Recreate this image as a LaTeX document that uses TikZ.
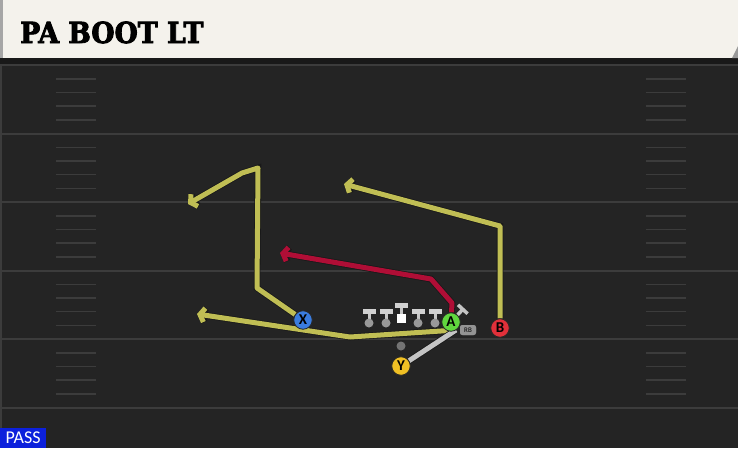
\documentclass[tikz,border=0pt]{standalone}
\usepackage{fontspec}
\usepackage{tikz}
\usetikzlibrary{arrows.meta}
\usetikzlibrary{shapes.misc}
\setsansfont{Carlito}
\newfontfamily\titlefont[FakeStretch=0.92, BoldFeatures={FakeBold=3}]{DejaVu Serif}
\definecolor{fieldbg}{RGB}{36,36,36}
\definecolor{yardline}{RGB}{60,60,60}
\definecolor{headerbg}{RGB}{244,242,236}
\definecolor{routeyellow}{RGB}{192,190,84}
\definecolor{routered}{RGB}{176,14,54}
\definecolor{motiongray}{RGB}{196,196,196}
\definecolor{passblue}{RGB}{12,32,220}
\definecolor{xblue}{RGB}{58,124,222}
\definecolor{agreen}{RGB}{96,214,62}
\definecolor{bred}{RGB}{226,48,58}
\definecolor{yyellow}{RGB}{240,192,36}
\newcommand{\playersize}{18.5pt}
\newcommand{\routewidth}{5pt}
\newcommand{\outlinewidth}{6.6pt}
\tikzstyle{player}=[circle, draw={black!85}, line width=0.8pt, minimum size=\playersize, inner sep=0, font=\sffamily\bfseries\fontsize{15}{15}\selectfont]
\tikzstyle{route}=[line width=\routewidth, line join=round,
                   % Thin dark edge round every route.
                   preaction={draw={black!90}, line width=\outlinewidth}]
\tikzstyle{routetip}=[-{Straight Barb[length=4.5pt, width=14pt]}]
\tikzstyle{hashmark}=[draw=yardline, line width=1.6pt]
\tikzstyle{rbtag}=[fill=black!42, rounded corners=2.5pt, minimum width=16pt, minimum height=10pt, inner sep=0, font=\sffamily\fontsize{7}{7}\selectfont]

\begin{document}
\begin{tikzpicture}[x=1pt, y=-1pt]
        \useasboundingbox (0,0) rectangle (738,448);
        \fill[fieldbg] (0,0) rectangle (738,448);
        \fill[black!90] (0,57) rectangle (738,64);
        \fill[headerbg] (0,0) rectangle (738,58);
        \fill[black!35] (0,0) rectangle (3,58);
        \fill[black!40] (738,46) -- (738,58) -- (732,58) -- cycle;
        \draw[yardline, line width=1.5pt] (1,64) -- (1,448);
        % Yard lines and hash marks.
        \foreach \k in {0,...,5}
            \draw[yardline, line width=2pt] (0,65+68.5*\k) -- (738,65+68.5*\k);
        \foreach \k in {0,...,4}
            \foreach \d in {14,27.5,41,55}
            {
                \draw[hashmark] (56,65+68.5*\k+\d) -- (96,65+68.5*\k+\d);
                \draw[hashmark] (646,65+68.5*\k+\d) -- (686,65+68.5*\k+\d);
            }
        \node[anchor=base west, inner sep=0, font=\titlefont\bfseries\fontsize{29}{29}\selectfont] (title) at (20,43) {PA BOOT LT};
        \node[fill=passblue, text=white, anchor=south west, minimum width=46pt, minimum height=20pt, inner sep=0, font=\sffamily\fontsize{18}{18}\selectfont] (pass) at (0,448) {PASS};

        \node[player, fill=xblue] (X) at (303,320) {X};
        \node[player, fill=agreen] (A) at (451,322) {A};
        \node[player, fill=bred] (B) at (500,328) {B};
        \node[player, fill=yyellow] (Y) at (401,366) {Y};
        \node[circle, fill=black!55, minimum size=9pt, inner sep=0] (qb) at (401,346) {};
        \node[rbtag] (rb) at (468,330) {RB};

        \coordinate (xbreak) at (257,288);
        \coordinate (xtop) at (258,168);
        \coordinate (xbend) at (242,173);
        \coordinate (xend) at (188,204);
        \coordinate (abreak) at (452,303);
        \coordinate (abend) at (431,279);
        \coordinate (aend) at (280,253);
        \coordinate (ablock) at (464,308);
        \coordinate (bbreak) at (500,226);
        \coordinate (bend) at (344,184);
        \coordinate (ymotion) at (456,330);
        \coordinate (ybend) at (350,337);
        \coordinate (yend) at (197,314);

        \draw[route, draw=routeyellow, routetip] (ymotion) -- (ybend) -- (yend);
        \draw[route, draw=motiongray] (Y) -- (ymotion);
        \draw[route, draw=routeyellow, routetip] (X) -- (xbreak) -- (xtop) -- (xbend) -- (xend);
        \draw[route, draw=routered, routetip] (A) -- (abreak) -- (abend) -- (aend);
        \draw[route, draw=routeyellow, routetip] (B) -- (bbreak) -- (bend);
        \draw[draw=motiongray, line width=3.5pt, -{Bar[width=13pt, line width=3.5pt]}] (A) -- (ablock);

        % Offensive line.
        \foreach \lx in {369,386,418,435}
        {
            \draw[black!22, line width=3pt] (\lx,311) -- (\lx,320);
            \fill[black!18] (\lx-6.5,308.5) rectangle (\lx+6.5,313.5);
            \fill[black!40] (\lx,323) circle (4.5pt);
        }
        \draw[black!22, line width=3pt] (401,305) -- (401,315);
        \fill[black!18] (394.5,302.5) rectangle (407.5,307.5);
        \fill[white] (396.5,313.5) rectangle (405.5,322.5);

        \node[player, fill=xblue] at (X) {X};
        \node[player, fill=agreen] at (A) {A};
        \node[player, fill=bred] at (B) {B};
        \node[player, fill=yyellow] at (Y) {Y};
        \node[rbtag] at (rb) {RB};
    \end{tikzpicture}
\end{document}
